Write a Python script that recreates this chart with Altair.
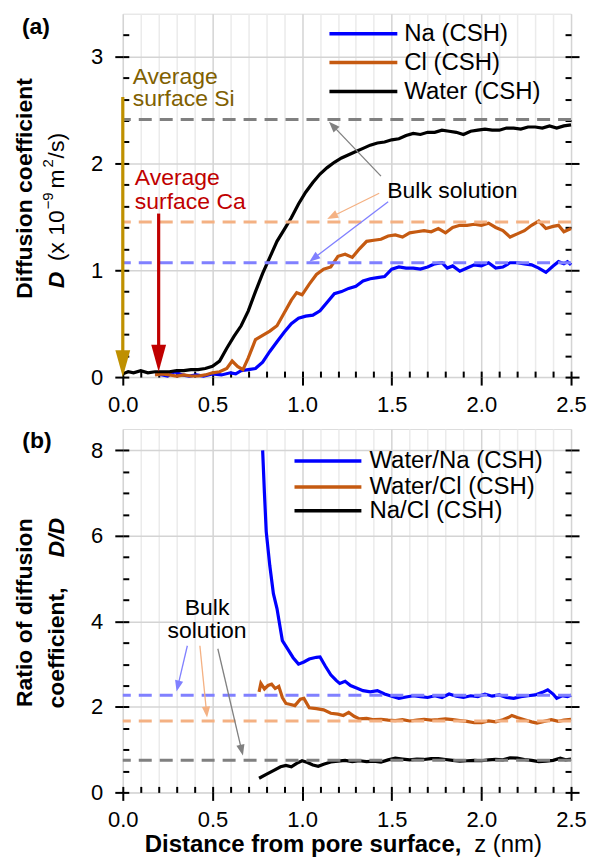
import math
import altair as alt
import pandas as pd

FONT = "Liberation Sans"
W, H = 449, 364

# ---------------- panel (a) data ----------------
a_series = ["Na (CSH)", "Cl (CSH)", "Water (CSH)"]
a_colors = ["#0000FF", "#C55A11", "#000000"]

water_z = [0.0, 0.03, 0.06, 0.1, 0.14, 0.18, 0.22, 0.26, 0.3, 0.34, 0.38, 0.42, 0.46, 0.5,
           0.54, 0.58, 0.62, 0.66, 0.7, 0.74, 0.78, 0.82, 0.86, 0.9, 0.94, 0.98, 1.02, 1.06,
           1.1, 1.14, 1.18, 1.22, 1.26, 1.3, 1.34, 1.38, 1.42, 1.46, 1.5, 1.54, 1.58, 1.62,
           1.66, 1.7, 1.74, 1.78, 1.82, 1.86, 1.9, 1.94, 1.98, 2.02, 2.06, 2.1, 2.14, 2.18,
           2.22, 2.26, 2.3, 2.34, 2.38, 2.42, 2.46, 2.5]
water_d = [0.03, 0.05, 0.04, 0.06, 0.04, 0.05, 0.05, 0.05, 0.06, 0.06, 0.07, 0.07, 0.08, 0.1,
           0.15, 0.27, 0.38, 0.48, 0.62, 0.8, 0.97, 1.12, 1.27, 1.38, 1.49, 1.62, 1.73, 1.82,
           1.9, 1.96, 2.01, 2.05, 2.08, 2.11, 2.14, 2.17, 2.19, 2.2, 2.22, 2.23, 2.26, 2.28,
           2.27, 2.29, 2.29, 2.31, 2.3, 2.29, 2.27, 2.3, 2.31, 2.32, 2.31, 2.31, 2.33, 2.33,
           2.32, 2.34, 2.34, 2.33, 2.35, 2.33, 2.35, 2.36]

na_z = [0.18, 0.22, 0.25, 0.29, 0.33, 0.37, 0.41, 0.45, 0.5, 0.55, 0.6, 0.63, 0.66, 0.7,
        0.74, 0.78, 0.82, 0.86, 0.9, 0.94, 0.98, 1.02, 1.06, 1.1, 1.14, 1.18, 1.22, 1.26,
        1.3, 1.34, 1.38, 1.42, 1.46, 1.5, 1.54, 1.58, 1.62, 1.66, 1.7, 1.74, 1.78, 1.81,
        1.84, 1.88, 1.92, 1.96, 2.0, 2.04, 2.08, 2.12, 2.16, 2.2, 2.24, 2.28, 2.32, 2.36,
        2.4, 2.43, 2.46, 2.48, 2.5]
na_d = [0.03, 0.02, 0.01, 0.05, 0.02, 0.01, 0.02, 0.01, 0.03, 0.02, 0.04, 0.03, 0.06, 0.07,
        0.08, 0.14, 0.24, 0.33, 0.42, 0.5, 0.55, 0.57, 0.58, 0.62, 0.7, 0.78, 0.8, 0.83,
        0.85, 0.9, 0.92, 0.93, 0.94, 1.01, 1.03, 1.02, 1.02, 1.01, 1.03, 1.06, 1.07, 1.02,
        1.04, 0.99, 1.02, 1.05, 1.04, 1.07, 1.02, 1.03, 1.07, 1.07, 1.06, 1.05, 1.02, 0.98,
        1.04, 1.08, 1.06, 1.08, 1.05]

cl_z = [0.18, 0.22, 0.26, 0.3, 0.34, 0.38, 0.42, 0.46, 0.5, 0.54, 0.58, 0.61, 0.64, 0.67,
        0.7, 0.74, 0.78, 0.82, 0.86, 0.9, 0.94, 0.97, 1.0, 1.04, 1.08, 1.12, 1.16, 1.2,
        1.24, 1.28, 1.32, 1.36, 1.4, 1.44, 1.48, 1.52, 1.56, 1.6, 1.64, 1.68, 1.72, 1.76,
        1.8, 1.84, 1.88, 1.92, 1.96, 2.0, 2.04, 2.08, 2.12, 2.16, 2.2, 2.24, 2.28, 2.32,
        2.36, 2.4, 2.43, 2.46, 2.5]
cl_d = [0.02, 0.03, 0.02, 0.01, 0.02, 0.01, 0.01, 0.02, 0.04, 0.05, 0.08, 0.15, 0.1, 0.07,
        0.18, 0.35, 0.39, 0.43, 0.48, 0.6, 0.72, 0.79, 0.77, 0.87, 0.96, 1.01, 1.03, 1.13,
        1.15, 1.12, 1.2, 1.27, 1.28, 1.29, 1.32, 1.33, 1.31, 1.35, 1.36, 1.37, 1.36, 1.39,
        1.35, 1.4, 1.42, 1.42, 1.43, 1.42, 1.44, 1.4, 1.37, 1.31, 1.34, 1.37, 1.42, 1.46,
        1.39, 1.41, 1.42, 1.36, 1.39]

a_bulk = [2.41, 1.45, 1.07]
a_bulk_colors = ["#808080", "#F4B183", "#8080FF"]

# annotation texts (panel a)
si_text = ["Average", "surface Si"]
si_x = [0.055, 0.055]
si_y = [2.81, 2.60]
ca_text = ["Average", "surface Ca"]
ca_x = [0.067, 0.067]
ca_y = [1.86, 1.64]
bulk_a_text = ["Bulk solution"]
bulk_a_x = [1.475]
bulk_a_y = [1.74]

# arrows (panel a): start x, start y, tip x, tip y
si_arrow = [0.0, 2.62, 0.0, 0.0]
ca_arrow = [0.2, 1.53, 0.2, 0.05]
a_bulk_arrows = [[1.44, 1.88, 1.15, 2.39],
                 [1.43, 1.72, 1.14, 1.48],
                 [1.48, 1.64, 1.04, 1.08]]

# ---------------- panel (b) data ----------------
b_series = ["Water/Na (CSH)", "Water/Cl (CSH)", "Na/Cl (CSH)"]
b_colors = ["#0000FF", "#C55A11", "#000000"]

wna_z = [0.78, 0.79, 0.8, 0.82, 0.84, 0.86, 0.88, 0.89, 0.92, 0.95, 0.98, 1.01, 1.04, 1.08,
         1.1, 1.13, 1.16, 1.19, 1.21, 1.24, 1.27, 1.3, 1.34, 1.38, 1.42, 1.46, 1.5, 1.54,
         1.58, 1.62, 1.66, 1.7, 1.74, 1.78, 1.82, 1.86, 1.9, 1.94, 1.98, 2.02, 2.06, 2.1,
         2.14, 2.18, 2.22, 2.26, 2.3, 2.34, 2.37, 2.4, 2.42, 2.45, 2.48, 2.5]
wna_r = [8.0, 7.0, 6.1, 5.3, 4.65, 4.3, 3.8, 3.55, 3.35, 3.15, 3.0, 3.05, 3.12, 3.16,
         3.17, 2.95, 2.75, 2.62, 2.55, 2.6, 2.5, 2.45, 2.38, 2.35, 2.38, 2.3, 2.25, 2.2,
         2.23, 2.26, 2.24, 2.22, 2.26, 2.22, 2.3, 2.25, 2.22, 2.26, 2.24, 2.3, 2.25, 2.28,
         2.22, 2.2, 2.24, 2.26, 2.28, 2.34, 2.4, 2.3, 2.2, 2.26, 2.24, 2.27]

wcl_z = [0.76, 0.77, 0.79, 0.81, 0.83, 0.85, 0.87, 0.89, 0.91, 0.93, 0.96, 0.99, 1.01, 1.04,
         1.08, 1.12, 1.16, 1.2, 1.23, 1.26, 1.29, 1.32, 1.36, 1.4, 1.44, 1.48, 1.52, 1.56,
         1.6, 1.64, 1.68, 1.72, 1.76, 1.8, 1.84, 1.88, 1.92, 1.96, 2.0, 2.04, 2.08, 2.12,
         2.15, 2.17, 2.2, 2.24, 2.28, 2.31, 2.35, 2.39, 2.43, 2.46, 2.5]
wcl_r = [2.35, 2.55, 2.42, 2.5, 2.53, 2.43, 2.48, 2.22, 2.08, 2.06, 2.03, 2.18, 2.2, 1.98,
         1.96, 1.93, 1.85, 1.83, 1.8, 1.87, 1.78, 1.72, 1.73, 1.7, 1.71, 1.69, 1.68, 1.7,
         1.67, 1.69, 1.71, 1.69, 1.7, 1.72, 1.7, 1.68, 1.66, 1.63, 1.63, 1.67, 1.65, 1.7,
         1.75, 1.8, 1.75, 1.7, 1.65, 1.62, 1.66, 1.7, 1.66, 1.69, 1.71]

nacl_z = [0.76, 0.8, 0.84, 0.88, 0.91, 0.94, 0.97, 1.0, 1.03, 1.06, 1.09, 1.12, 1.16, 1.2,
          1.24, 1.28, 1.32, 1.36, 1.4, 1.44, 1.48, 1.52, 1.56, 1.6, 1.64, 1.68, 1.72, 1.76,
          1.8, 1.84, 1.88, 1.92, 1.96, 2.0, 2.04, 2.08, 2.12, 2.16, 2.2, 2.24, 2.28, 2.32,
          2.36, 2.4, 2.44, 2.47, 2.5]
nacl_r = [0.33, 0.42, 0.51, 0.6, 0.63, 0.6, 0.68, 0.74, 0.7, 0.64, 0.61, 0.66, 0.71, 0.73,
          0.75, 0.72, 0.74, 0.72, 0.73, 0.71, 0.76, 0.8, 0.78, 0.76, 0.78, 0.77, 0.79, 0.79,
          0.77, 0.75, 0.73, 0.74, 0.75, 0.74, 0.76, 0.77, 0.76, 0.81, 0.8, 0.77, 0.75, 0.72,
          0.73, 0.75, 0.8, 0.76, 0.78]

b_bulk = [2.27, 1.67, 0.75]
b_bulk_colors = ["#8080FF", "#F4B183", "#808080"]

bulk_b_text = ["Bulk", "solution"]
bulk_b_x = [0.47, 0.47]
bulk_b_y = [4.32, 3.78]
b_bulk_arrows = [[0.36, 3.43, 0.30, 2.36],
                 [0.43, 3.43, 0.47, 1.75],
                 [0.53, 3.36, 0.67, 0.86]]

# ---------------- axis value lists ----------------
x_major = [0.0, 0.5, 1.0, 1.5, 2.0, 2.5]
x_minor = [round(i * 0.1, 1) for i in range(26)]
a_y_major = [0, 1, 2, 3]
a_y_minor = [round(i * 0.2, 1) for i in range(17)]
b_y_major = [0, 2, 4, 6, 8]
b_y_minor = [i * 0.5 for i in range(17)]

XDOM = [0, 2.5]
A_YDOM = [0, 3.4]
B_YDOM = [0, 8.5]

ARROW_BIG = "M0,-1L0.55,1L-0.55,1Z"
ARROW_SMALL = "M0,-1L0.75,1L-0.75,1Z"


def xs():
    return alt.Scale(domain=XDOM, nice=False, zero=False)


def ys(dom):
    return alt.Scale(domain=dom, nice=False, zero=False)


def arrow_layers(coords, color, width, head_px, head_shape, ydom):
    kx = W / (XDOM[1] - XDOM[0])
    ky = H / (ydom[1] - ydom[0])
    rows = []
    for x1, y1, x2, y2 in coords:
        dxs = (x2 - x1) * kx
        dys = (y2 - y1) * ky  # up positive
        L = math.hypot(dxs, dys)
        ux, uy = dxs / L, dys / L
        hx = x2 - ux * head_px / 2 / kx
        hy = y2 - uy * head_px / 2 / ky
        ang = math.degrees(math.atan2(dxs, dys)) % 360
        rows.append(dict(x1=x1, y1=y1, hx=hx, hy=hy, ang=ang))
    df = pd.DataFrame(rows)
    line = alt.Chart(df).mark_rule(color=color, strokeWidth=width).encode(
        x=alt.X("x1:Q", scale=xs(), axis=None),
        y=alt.Y("y1:Q", scale=ys(ydom), axis=None),
        x2="hx:Q", y2="hy:Q")
    head = alt.Chart(df).mark_point(shape=head_shape, filled=True, color=color,
                                    opacity=1, size=head_px ** 2, strokeWidth=0).encode(
        x=alt.X("hx:Q", scale=xs(), axis=None),
        y=alt.Y("hy:Q", scale=ys(ydom), axis=None),
        angle=alt.Angle("ang:Q", scale=None))
    return [line, head]


def text_layer(texts, xv, yv, color, align, ydom, size=23):
    df = pd.DataFrame({"t": texts, "x": xv, "y": yv})
    return alt.Chart(df).mark_text(color=color, align=align, baseline="middle",
                                   fontSize=size, font=FONT).encode(
        x=alt.X("x:Q", scale=xs(), axis=None),
        y=alt.Y("y:Q", scale=ys(ydom), axis=None),
        text="t:N")


def label_layer(text, px, py, angle=0, align="center", weight="normal", style="normal",
                size=23, color="black"):
    df = pd.DataFrame({"t": [text]})
    kw = dict(align=align, baseline="middle", fontSize=size, font=FONT,
              fontWeight=weight, fontStyle=style, color=color)
    if angle:
        kw["angle"] = angle
    return alt.Chart(df).mark_text(**kw).encode(
        x=alt.value(px), y=alt.value(py), text="t:N")


def legend_layers(names, colors, x0, x1, xt, rows):
    out = []
    for name, col, yy in zip(names, colors, rows):
        df = pd.DataFrame({"t": [name]})
        out.append(alt.Chart(df).mark_rule(color=col, strokeWidth=3.5).encode(
            x=alt.value(x0), x2=alt.value(x1), y=alt.value(yy)))
        out.append(alt.Chart(df).mark_text(align="left", baseline="middle", fontSize=24,
                                           font=FONT, color="black").encode(
            x=alt.value(xt), y=alt.value(yy), text="t:N"))
    return out


def axis_layers(bulk_vals, ydom, y_major, y_minor):
    dfb = pd.DataFrame({"b": bulk_vals})
    dfx = pd.DataFrame({"zz": [XDOM[0], XDOM[1]]})
    right_major = alt.Chart(dfb).mark_rule(opacity=0).encode(
        y=alt.Y("b:Q", scale=ys(ydom),
                axis=alt.Axis(orient="right", values=y_major, labels=False, tickSize=8,
                              tickWidth=2, tickColor="black", grid=False, title=None,
                              domain=False)))
    left_in = alt.Chart(dfb).mark_rule(opacity=0).encode(
        y=alt.Y("b:Q", scale=ys(ydom),
                axis=alt.Axis(orient="left", values=y_minor, labels=False, tickSize=6,
                              offset=-6, tickWidth=2, tickColor="black", grid=False,
                              title=None, domain=False)))
    right_in = alt.Chart(dfb).mark_rule(opacity=0).encode(
        y=alt.Y("b:Q", scale=ys(ydom),
                axis=alt.Axis(orient="right", values=y_minor, labels=False, tickSize=6,
                              offset=-6, tickWidth=2, tickColor="black", grid=False,
                              title=None, domain=False)))
    bottom_in = alt.Chart(dfx).mark_rule(opacity=0).encode(
        x=alt.X("zz:Q", scale=xs(),
                axis=alt.Axis(orient="bottom", values=x_minor, labels=False, tickSize=6,
                              offset=-6, tickWidth=2, tickColor="black", grid=True,
                              gridColor={"condition": {
                                  "test": "abs(datum.value*2 - round(datum.value*2)) < 0.001",
                                  "value": "#d4d4d4"}, "value": "#ebebeb"},
                              gridWidth=1.5, title=None, domain=False)))
    return [right_major, left_in, right_in, bottom_in]


def main_axes(y_major, y_fmt):
    xa = alt.Axis(orient="bottom", values=x_major, format=".1f", tickSize=8, tickWidth=2,
                  tickColor="black", labelFont=FONT, labelFontSize=22, labelColor="black",
                  labelPadding=9, labelFlush=False, grid=False, domain=False, title=None)
    ya = alt.Axis(orient="left", values=y_major, format=y_fmt, tickSize=8, tickWidth=2,
                  tickColor="black", labelFont=FONT, labelFontSize=22, labelColor="black",
                  labelPadding=12, labelFlush=False, grid=True, gridColor="#d4d4d4",
                  gridWidth=1.5, domain=False, title=None)
    return xa, ya


# ---------------- panel (a) ----------------
df_a = pd.concat([
    pd.DataFrame({"z": na_z, "d": na_d, "series": a_series[0]}),
    pd.DataFrame({"z": cl_z, "d": cl_d, "series": a_series[1]}),
    pd.DataFrame({"z": water_z, "d": water_d, "series": a_series[2]}),
])
xa, ya = main_axes(a_y_major, "d")
lines_a = alt.Chart(df_a).mark_line(strokeWidth=3.2).encode(
    x=alt.X("z:Q", scale=xs(), axis=xa),
    y=alt.Y("d:Q", scale=ys(A_YDOM), axis=ya),
    color=alt.Color("series:N", sort=a_series,
                    scale=alt.Scale(domain=a_series, range=a_colors), legend=None),
    order=alt.Order("z:Q"))

bulk_a_df = pd.DataFrame({"b": a_bulk, "c": a_bulk_colors})
bulk_a = alt.Chart(bulk_a_df).mark_rule(strokeWidth=3, strokeDash=[13, 8]).encode(
    y=alt.Y("b:Q", scale=ys(A_YDOM), axis=None),
    stroke=alt.Stroke("c:N", scale=None))

layers_a = [lines_a] + axis_layers(a_bulk, A_YDOM, a_y_major, a_y_minor)
layers_a += [bulk_a]
layers_a += arrow_layers([si_arrow], "#BF9000", 3.2, 27, ARROW_BIG, A_YDOM)
layers_a += arrow_layers([ca_arrow], "#C00000", 3.2, 27, ARROW_BIG, A_YDOM)
for crd, col in zip(a_bulk_arrows, ["#808080", "#F4B183", "#8080FF"]):
    layers_a += arrow_layers([crd], col, 1.3, 11, ARROW_SMALL, A_YDOM)
layers_a += legend_layers(a_series, a_colors, 207, 275, 282, [20, 49, 78])
layers_a += [
    text_layer(si_text, si_x, si_y, "#806000", "left", A_YDOM),
    text_layer(ca_text, ca_x, ca_y, "#C00000", "left", A_YDOM),
    text_layer(bulk_a_text, bulk_a_x, bulk_a_y, "black", "left", A_YDOM),
    label_layer("(a)", -87, 13, weight="bold"),
    label_layer("Diffusion coefficient", -98, 175, angle=270, weight="bold"),
    label_layer("D", -66, 275, angle=270, align="left", weight="bold", style="italic"),
    label_layer("(x 10", -66, 248, angle=270, align="left"),
    label_layer("\u22129", -75, 196, angle=270, align="left", size=15),
    label_layer("m", -66, 175, angle=270, align="left"),
    label_layer("2", -75, 154, angle=270, align="left", size=15),
    label_layer("/s)", -66, 145, angle=270, align="left"),
]

panel_a = alt.layer(*layers_a).resolve_axis(y="independent", x="independent").properties(
    width=W, height=H)

# ---------------- panel (b) ----------------
df_b = pd.concat([
    pd.DataFrame({"z": wna_z, "r": wna_r, "series": b_series[0]}),
    pd.DataFrame({"z": wcl_z, "r": wcl_r, "series": b_series[1]}),
    pd.DataFrame({"z": nacl_z, "r": nacl_r, "series": b_series[2]}),
])
xb, yb = main_axes(b_y_major, "d")
lines_b = alt.Chart(df_b).mark_line(strokeWidth=3.2).encode(
    x=alt.X("z:Q", scale=xs(), axis=xb),
    y=alt.Y("r:Q", scale=ys(B_YDOM), axis=yb),
    color=alt.Color("series:N", sort=b_series,
                    scale=alt.Scale(domain=b_series, range=b_colors), legend=None),
    order=alt.Order("z:Q"))

bulk_b_df = pd.DataFrame({"b": b_bulk, "c": b_bulk_colors})
bulk_b = alt.Chart(bulk_b_df).mark_rule(strokeWidth=3, strokeDash=[13, 8]).encode(
    y=alt.Y("b:Q", scale=ys(B_YDOM), axis=None),
    stroke=alt.Stroke("c:N", scale=None))

layers_b = [lines_b] + axis_layers(b_bulk, B_YDOM, b_y_major, b_y_minor)
layers_b += [bulk_b]
for crd, col in zip(b_bulk_arrows, ["#8080FF", "#F4B183", "#808080"]):
    layers_b += arrow_layers([crd], col, 1.3, 11, ARROW_SMALL, B_YDOM)
layers_b += legend_layers(b_series, b_colors, 172, 239, 247, [32, 58, 82])
layers_b += [
    text_layer(bulk_b_text, bulk_b_x, bulk_b_y, "black", "center", B_YDOM),
    label_layer("(b)", -86, 12, weight="bold"),
    label_layer("Ratio of diffusion", -98, 184, angle=270, weight="bold"),
    label_layer("coefficient,", -66, 280, angle=270, align="left", weight="bold"),
    label_layer("D/D", -66, 89, angle=270, align="right", weight="bold", style="italic"),
    label_layer("Distance from pore surface,", 22, 417, align="left", weight="bold", size=24),
    label_layer("z (nm)", 352, 417, align="left", size=24),
]

panel_b = alt.layer(*layers_b).resolve_axis(y="independent", x="independent").properties(
    width=W, height=H)

chart = alt.vconcat(panel_a, panel_b, spacing=12).resolve_scale(
    color="independent", stroke="independent", x="independent", y="independent"
).configure_view(stroke="black", strokeWidth=2.5).configure(
    padding={"left": 13, "top": 12, "right": 5, "bottom": 0},
    background="white")

chart.save("out.html", embed_options={"renderer": "svg", "actions": False})
